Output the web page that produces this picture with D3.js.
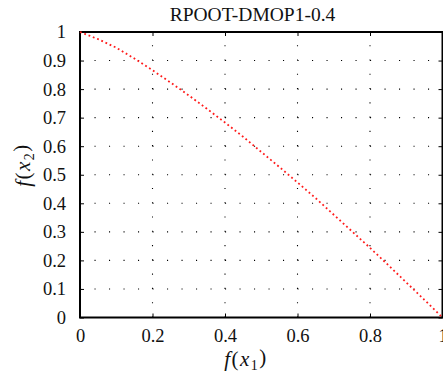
<!DOCTYPE html>
<html>
<head>
<meta charset="utf-8">
<script src="https://cdn.jsdelivr.net/npm/d3@7"></script>
<style>
  body { margin: 0; background: #fff; }
  svg { display: block; font-family: "Liberation Serif", "DejaVu Serif", serif; }
</style>
</head>
<body>
<svg id="chart-svg"></svg>
<script>
// front
const f1Values = [0, 0.05, 0.1, 0.15, 0.2, 0.25, 0.3, 0.35, 0.4, 0.45, 0.5,
                  0.55, 0.6, 0.65, 0.7, 0.75, 0.8, 0.85, 0.9, 0.95, 1];
const f2Values = [1, 0.975, 0.945, 0.907, 0.866, 0.823, 0.778, 0.731, 0.683, 0.633, 0.58,
                  0.527, 0.473, 0.418, 0.36, 0.302, 0.244, 0.184, 0.123, 0.062, 0];
const xTicks = [0, 0.2, 0.4, 0.6, 0.8, 1];
const yTicks = [0, 0.1, 0.2, 0.3, 0.4, 0.5, 0.6, 0.7, 0.8, 0.9, 1];
const chartTitle = "RPOOT-DMOP1-0.4";

const width = 443;
const height = 377;
const margin = { top: 32, right: 0.5, bottom: 59.5, left: 80 };
const chartWidth = width - margin.left - margin.right;
const chartHeight = height - margin.top - margin.bottom;

let svg = d3.select("#chart-svg").attr("width", width).attr("height", height);

let chart = svg.append("g")
    .attr("transform", "translate(" + margin.left + "," + margin.top + ")");

let xScale = d3.scaleLinear().domain([0, 1]).range([0, chartWidth]);
let yScale = d3.scaleLinear().domain([0, 1]).range([chartHeight, 0]);

const fmt = d => d === 0 || d === 1 ? String(d) : d3.format(".1f")(d);

// dotted grid
const xPeriod = (xScale(0.2) - xScale(0)) / 5;
const yPeriod = (yScale(0) - yScale(0.1)) / 2;

chart.append("g").selectAll("line")
    .data(yTicks.slice(1, -1))
    .join("line")
    .attr("x1", 0).attr("x2", chartWidth)
    .attr("y1", d => yScale(d)).attr("y2", d => yScale(d))
    .attr("stroke", "#000")
    .attr("stroke-width", 1.1)
    .attr("stroke-dasharray", `1.1 ${xPeriod - 1.1}`);

chart.append("g").selectAll("line")
    .data(xTicks.slice(1, -1))
    .join("line")
    .attr("x1", d => xScale(d)).attr("x2", d => xScale(d))
    .attr("y1", chartHeight).attr("y2", 0)
    .attr("stroke", "#000")
    .attr("stroke-width", 1.1)
    .attr("stroke-dasharray", `1.1 ${yPeriod - 1.1}`);

// axes
let xAxis = chart.append("g")
    .attr("transform", `translate(0,${chartHeight})`)
    .call(d3.axisBottom(xScale).tickValues(xTicks).tickFormat(fmt)
        .tickSizeInner(-4).tickSizeOuter(0).tickPadding(11));

let yAxis = chart.append("g")
    .call(d3.axisLeft(yScale).tickValues(yTicks).tickFormat(fmt)
        .tickSizeInner(-4).tickSizeOuter(0).tickPadding(14));

chart.append("g")
    .call(d3.axisTop(xScale).tickValues(xTicks).tickFormat("")
        .tickSizeInner(-4).tickSizeOuter(0));

chart.append("g")
    .attr("transform", `translate(${chartWidth},0)`)
    .call(d3.axisRight(yScale).tickValues(yTicks).tickFormat("")
        .tickSizeInner(-4).tickSizeOuter(0));

chart.selectAll(".domain").remove();
chart.selectAll(".tick line").attr("stroke", "#000").attr("stroke-width", 1);
chart.selectAll(".tick text")
    .attr("fill", "#111")
    .style("font-family", "'Liberation Serif', serif")
    .style("font-size", "18.5px");

// box
chart.append("rect")
    .attr("x", 0).attr("y", 0)
    .attr("width", chartWidth).attr("height", chartHeight)
    .attr("fill", "none")
    .attr("stroke", "#000")
    .attr("stroke-width", 2);

// front
const points = f1Values.map((v, i) => [v, f2Values[i]]);
chart.append("path")
    .datum(points)
    .attr("fill", "none")
    .attr("stroke", "#ff1a1a")
    .attr("stroke-width", 1.8)
    .attr("stroke-dasharray", "1.8 2.8")
    .attr("d", d3.line().x(d => xScale(d[0])).y(d => yScale(d[1])));

// title
svg.append("text")
    .attr("x", 252.5)
    .attr("y", 21)
    .attr("text-anchor", "middle")
    .style("font-size", "19.5px")
    .attr("fill", "#111")
    .text(chartTitle);

// axis labels
function axisLabel(sel, sub) {
    sel.style("font-size", "21px").attr("fill", "#111").style("letter-spacing", "1.5px");
    sel.append("tspan").style("font-style", "italic").text("f");
    sel.append("tspan").text("(");
    sel.append("tspan").style("font-style", "italic").text("x");
    sel.append("tspan").attr("dy", "0.3em").style("font-size", "14px").text(sub);
    sel.append("tspan").attr("dy", "-0.3em").text(")");
}

svg.append("text")
    .attr("x", 246)
    .attr("y", 366)
    .attr("text-anchor", "middle")
    .call(axisLabel, "1");

svg.append("text")
    .attr("transform", "translate(30,165) rotate(-90)")
    .attr("text-anchor", "middle")
    .call(axisLabel, "2");
</script>
</body>
</html>
